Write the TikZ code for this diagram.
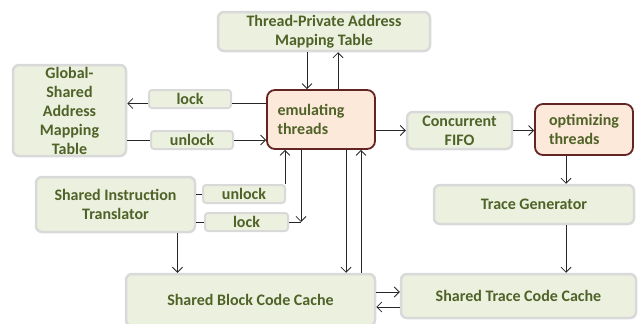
\documentclass[tikz,border=0pt]{standalone}
\usepackage{fontspec}
\setmainfont{Carlito}
\usetikzlibrary{arrows.meta}
\definecolor{boxfill}{HTML}{EBF1DE}
\definecolor{boxline}{HTML}{D9D9D9}
\definecolor{thrfill}{HTML}{FDE9D9}
\definecolor{thrline}{HTML}{632523}
\definecolor{boxtext}{HTML}{4F6228}
\begin{document}
\begin{tikzpicture}[x=1pt,y=-1pt]
\tikzstyle{dep}= [->,line width=0.8pt,draw=black!85,>={Straight Barb[length=5pt,width=10pt]}]
\tikzstyle{ln}= [line width=0.8pt,draw=black!85]
\tikzstyle{bb}= [rectangle,rounded corners=6pt,draw=boxline,line width=2.5pt,fill=boxfill,
  text=boxtext,font=\bfseries\fontsize{16}{19}\selectfont,align=center,inner sep=0pt]
\tikzstyle{tb}= [bb,rounded corners=8pt,draw=thrline,line width=1.8pt,fill=thrfill,align=left]
\tikzstyle{lb}= [bb,rounded corners=3pt,line width=2pt,minimum width=82pt,minimum height=18pt]

\useasboundingbox (0,0) rectangle (638,324);

\path
	(324,31.5) node[bb,minimum width=212pt,minimum height=39pt] (tpamt) {Thread-Private Address\\Mapping Table}
	(69.5,110.5) node[bb,minimum width=113pt,minimum height=91pt] (gsamt) {Global-\\Shared\\Address\\Mapping\\Table}
	(190,99) node[lb] (lockA) {lock}
	(192,140) node[lb] (unlockA) {unlock}
	(321,119.5) node[tb,minimum width=108pt,minimum height=59pt] (emu) {emulating\hspace*{20pt}\\threads}
	(459.5,130.5) node[bb,minimum width=105pt,minimum height=37pt] (fifo) {Concurrent\\FIFO}
	(584,129.5) node[tb,minimum width=98pt,minimum height=51pt] (opt) {optimizing\\threads}
	(115.5,204.5) node[bb,minimum width=159pt,minimum height=55pt] (sit) {Shared Instruction\\Translator}
	(244,194) node[lb] (unlockB) {unlock}
	(246.5,222) node[lb,minimum width=83pt] (lockB) {lock}
	(534,204.5) node[bb,minimum width=200pt,minimum height=39pt] (tg) {Trace Generator}
	(250.5,300) node[bb,minimum width=249pt,minimum height=52pt] (sbcc) {Shared Block Code Cache}
	(518.5,296) node[bb,minimum width=235pt,minimum height=44pt] (stcc) {Shared Trace Code Cache}
;

% attach points on the thread boxes
\coordinate (e1) at ([xshift=-14pt]emu.north);
\coordinate (e2) at ([xshift=17pt]emu.north);
\coordinate (e3) at ([xshift=-36pt]emu.south);
\coordinate (e4) at ([xshift=-20pt]emu.south);
\coordinate (e5) at ([xshift=25pt]emu.south);
\coordinate (e6) at ([xshift=40pt]emu.south);
\coordinate (o1) at ([xshift=-18pt]opt.south);
\coordinate (s1) at ([xshift=62pt]sit.south);
\coordinate (la) at ([yshift=-4.5pt]lockA.east);
\coordinate (c1) at ([yshift=4pt]stcc.west);
\coordinate (c2) at ([yshift=-11pt]stcc.west);

\draw[dep] (e1 |- tpamt.south) -- (e1);
\draw[dep] (e2) -- (e2 |- tpamt.south);
\draw[ln] (la -| emu.west) -- (la);
\draw[dep] (la -| lockA.west) -- (la -| gsamt.east);
\draw[ln] (gsamt.east |- unlockA.west) -- (unlockA.west);
\draw[dep] (unlockA.east) -- (unlockA.east -| emu.west);
\draw[dep] (emu.east |- fifo.west) -- (fifo.west);
\draw[dep] (fifo.east) -- (fifo.east -| opt.west);
\draw[dep] (o1) -- (o1 |- tg.north);
\draw[dep] (o1 |- tg.south) -- (o1 |- stcc.north);
\draw[dep] (c1 -| sbcc.east) -- (c1);
\draw[dep] (c2) -- (c2 -| sbcc.east);

% instruction translator and its locks
\draw[dep] (e3 |- unlockB.north) -- (e3);
\draw[dep] (e4) -- (e4 |- lockB.east);
\draw[ln] (lockB.east) -- (e4 |- lockB.east);
\draw[ln] (sit.east |- unlockB.west) -- (unlockB.west);
\draw[ln] (sit.east |- lockB.west) -- (lockB.west);
\draw[dep] (s1) -- (s1 |- sbcc.north);

% block cache
\draw[dep] (e5) -- (e5 |- sbcc.north);
\draw[dep] (e6 |- sbcc.north) -- (e6);
\end{tikzpicture}
\end{document}
